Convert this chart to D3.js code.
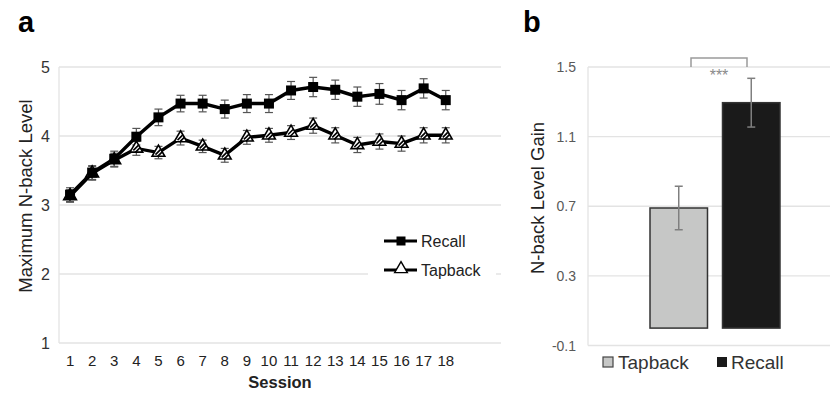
<!DOCTYPE html>
<html><head><meta charset="utf-8">
<script src="https://cdn.jsdelivr.net/npm/d3@7"></script>
<style>body{margin:0;background:#fff}svg{display:block;font-family:"Liberation Sans",Arial,sans-serif}</style>
</head><body><svg id="c" width="830" height="395"></svg>
<script>
// Panel a data
const sessions = d3.range(1, 19);
const recallMean = [3.15,3.47,3.67,3.99,4.27,4.47,4.47,4.39,4.47,4.47,4.66,4.71,4.67,4.57,4.61,4.52,4.69,4.52];
const recallErr  = [0.10,0.10,0.11,0.12,0.12,0.12,0.12,0.13,0.13,0.13,0.13,0.14,0.14,0.14,0.15,0.14,0.14,0.14];
const tapMean = [3.13,3.46,3.65,3.82,3.76,3.97,3.85,3.72,3.98,4.01,4.05,4.15,4.01,3.87,3.92,3.89,4.01,4.01];
const tapErr  = [0.09,0.10,0.10,0.10,0.09,0.10,0.09,0.10,0.10,0.10,0.10,0.11,0.11,0.11,0.11,0.11,0.11,0.11];
const yTicksA = [1,2,3,4,5];
// Panel b data
const groups = ["Tapback","Recall"];
const gainMean = [0.69, 1.295];
const gainErr = [0.125, 0.14];
const yTicksB = [-0.1,0.3,0.7,1.1,1.5];

const svg = d3.select("#c");
const grid = "#e3e3e3";

// ---------- Panel a ----------
const xA = d3.scaleBand().domain(d3.range(1,21)).range([59,501]);
const cx = s => xA(s) + xA.bandwidth()/2;
const yA = d3.scaleLinear().domain([1,5]).range([343,67]);

const ga = svg.append("g");
ga.selectAll("line.g").data(yTicksA).join("line")
  .attr("x1",59).attr("x2",501).attr("y1",d=>yA(d)).attr("y2",d=>yA(d))
  .attr("stroke",grid).attr("stroke-width",1.3);
ga.append("line").attr("x1",59).attr("x2",59).attr("y1",67).attr("y2",343).attr("stroke",grid).attr("stroke-width",1.3);
ga.selectAll("text.yt").data(yTicksA).join("text")
  .attr("x",50).attr("y",d=>yA(d)+6).attr("text-anchor","end")
  .attr("font-size",16).attr("fill","#333").text(d=>d);
ga.selectAll("text.xt").data(sessions).join("text")
  .attr("x",d=>cx(d)).attr("y",366).attr("text-anchor","middle")
  .attr("font-size",15).attr("fill","#222").text(d=>d);
ga.append("text").attr("x",280).attr("y",388).attr("text-anchor","middle")
  .attr("font-size",16.5).attr("font-weight","bold").attr("fill","#222").text("Session");
ga.append("text").attr("transform","translate(32,196) rotate(-90)").attr("text-anchor","middle")
  .attr("font-size",18.5).attr("fill","#222").text("Maximum N-back Level");
svg.append("text").attr("x",18).attr("y",32).attr("font-size",29).attr("font-weight","bold").text("a");

function errBars(g, means, errs, color){
  const d = sessions.map((s,i)=>({s, m:means[i], e:errs[i]}));
  const eg = g.append("g").attr("stroke",color).attr("stroke-width",1.2);
  eg.selectAll("line.v").data(d).join("line")
    .attr("x1",p=>cx(p.s)).attr("x2",p=>cx(p.s)).attr("y1",p=>yA(p.m-p.e)).attr("y2",p=>yA(p.m+p.e));
  eg.selectAll("line.t").data(d).join("line")
    .attr("x1",p=>cx(p.s)-4).attr("x2",p=>cx(p.s)+4).attr("y1",p=>yA(p.m+p.e)).attr("y2",p=>yA(p.m+p.e));
  eg.selectAll("line.b").data(d).join("line")
    .attr("x1",p=>cx(p.s)-4).attr("x2",p=>cx(p.s)+4).attr("y1",p=>yA(p.m-p.e)).attr("y2",p=>yA(p.m-p.e));
}
errBars(ga, tapMean, tapErr, "#555");
errBars(ga, recallMean, recallErr, "#555");

const line = d3.line().x((d,i)=>cx(sessions[i])).y(d=>yA(d));
ga.append("path").datum(tapMean).attr("d",line).attr("fill","none").attr("stroke","#000").attr("stroke-width",3.4);
ga.append("path").datum(recallMean).attr("d",line).attr("fill","none").attr("stroke","#000").attr("stroke-width",3.4);

const tri = d3.symbol().type(d3.symbolTriangle).size(70);
ga.selectAll("path.tri").data(tapMean).join("path")
  .attr("d",tri).attr("transform",(d,i)=>`translate(${cx(sessions[i])},${yA(d)})`)
  .attr("fill","#fff").attr("stroke","#000").attr("stroke-width",1.6);
ga.selectAll("path.tri2").data(tapMean).join("path")
  .attr("d","M-3,2L2,-3M-1,4L4,-1").attr("transform",(d,i)=>`translate(${cx(sessions[i])},${yA(d)})`)
  .attr("stroke","#000").attr("stroke-width",1.6);
ga.selectAll("rect.sq").data(recallMean).join("rect")
  .attr("x",(d,i)=>cx(sessions[i])-5).attr("y",d=>yA(d)-5).attr("width",10).attr("height",10).attr("fill","#000");

// legend a
const lg = ga.append("g");
lg.append("rect").attr("x",368).attr("y",228).attr("width",128).attr("height",52).attr("fill","#fff");
lg.append("line").attr("x1",384).attr("x2",417).attr("y1",241).attr("y2",241).attr("stroke","#000").attr("stroke-width",3);
lg.append("rect").attr("x",396.5).attr("y",236.5).attr("width",9).attr("height",9).attr("fill","#000");
lg.append("text").attr("x",421).attr("y",246.5).attr("font-size",16).attr("fill","#222").text("Recall");
lg.append("line").attr("x1",384).attr("x2",417).attr("y1",270).attr("y2",270).attr("stroke","#000").attr("stroke-width",3);
lg.append("path").attr("d",tri).attr("transform","translate(401,269)").attr("fill","#fff").attr("stroke","#000").attr("stroke-width",1.4);
lg.append("text").attr("x",421).attr("y",275.5).attr("font-size",16).attr("fill","#222").text("Tapback");

// ---------- Panel b ----------
const yB = d3.scaleLinear().domain([-0.1,1.5]).range([345.5,67]);
const xB = d3.scaleBand().domain(groups).range([650,780]).paddingInner(0.207);
const gb = svg.append("g");
gb.selectAll("line.g").data(yTicksB).join("line")
  .attr("x1",588).attr("x2",830).attr("y1",d=>yB(d)).attr("y2",d=>yB(d))
  .attr("stroke",grid).attr("stroke-width",1.3);
gb.append("line").attr("x1",588).attr("x2",588).attr("y1",67).attr("y2",345.5).attr("stroke",grid).attr("stroke-width",1.3);
gb.selectAll("text.yt").data(yTicksB).join("text")
  .attr("x",576).attr("y",d=>yB(d)+5).attr("text-anchor","end")
  .attr("font-size",14).attr("fill","#595959").text(d=>d);
gb.append("text").attr("transform","translate(544,198) rotate(-90)").attr("text-anchor","middle")
  .attr("font-size",18.5).attr("fill","#222").text("N-back Level Gain");
svg.append("text").attr("x",523).attr("y",32).attr("font-size",29).attr("font-weight","bold").text("b");

const fills = ["#c6c7c6","#1a1a1a"];
gb.selectAll("rect.bar").data(groups).join("rect")
  .attr("x",d=>xB(d)).attr("width",xB.bandwidth())
  .attr("y",(d,i)=>yB(gainMean[i])).attr("height",(d,i)=>yB(0)-yB(gainMean[i]))
  .attr("fill",(d,i)=>fills[i]).attr("stroke","#333").attr("stroke-width",1.5);
const bx = d => xB(d)+xB.bandwidth()/2;
const eb = gb.append("g").attr("stroke","#7f7f7f").attr("stroke-width",1.5);
groups.forEach((g,i)=>{
  const t=yB(gainMean[i]+gainErr[i]), b=yB(gainMean[i]-gainErr[i]);
  eb.append("line").attr("x1",bx(g)).attr("x2",bx(g)).attr("y1",t).attr("y2",b);
  eb.append("line").attr("x1",bx(g)-4).attr("x2",bx(g)+4).attr("y1",t).attr("y2",t);
  eb.append("line").attr("x1",bx(g)-4).attr("x2",bx(g)+4).attr("y1",b).attr("y2",b);
});
// significance bracket
gb.append("path").attr("d","M691,67V58H747V67").attr("fill","none").attr("stroke","#9a9a9a").attr("stroke-width",1.5);
gb.append("text").attr("x",719).attr("y",81).attr("text-anchor","middle").attr("font-size",16).attr("fill","#8a8a8a").text("***");

// legend b
const lb = gb.append("g");
lb.append("rect").attr("x",603).attr("y",357).attr("width",10).attr("height",10).attr("fill",fills[0]).attr("stroke","#444").attr("stroke-width",1.2);
lb.append("text").attr("x",618).attr("y",369).attr("font-size",19).attr("fill","#333").text("Tapback");
lb.append("rect").attr("x",717).attr("y",357).attr("width",10).attr("height",10).attr("fill",fills[1]);
lb.append("text").attr("x",731).attr("y",369).attr("font-size",19).attr("fill","#333").text("Recall");
</script></body></html>
